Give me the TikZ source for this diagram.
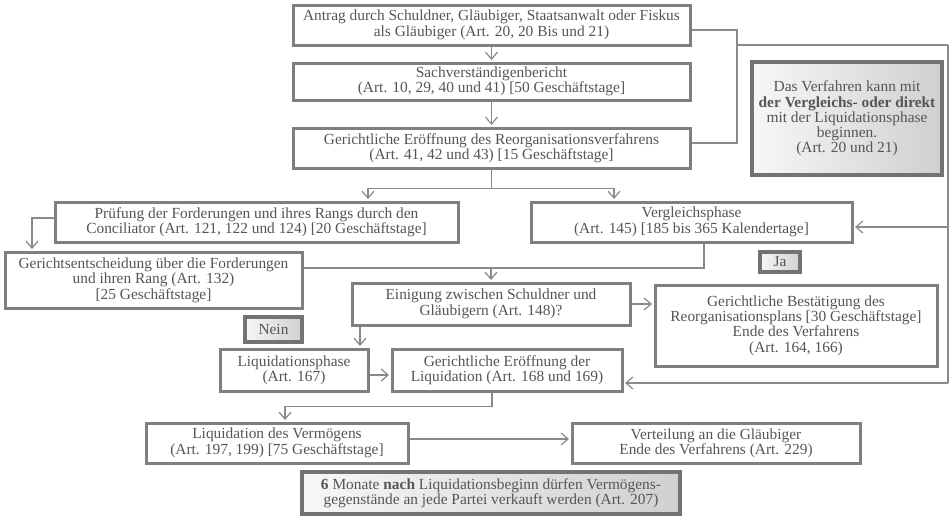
\documentclass[tikz,border=0pt]{standalone}
\usepackage{fontspec}
\setmainfont{Liberation Serif}
\usetikzlibrary{arrows.meta,shadings}
\definecolor{boxc}{HTML}{7F7F7F}
\definecolor{gboxc}{HTML}{737373}
\definecolor{txt}{HTML}{555555}
\definecolor{linec}{HTML}{8A8A8A}
\definecolor{glight}{HTML}{F7F7F7}
\definecolor{gdark}{HTML}{D0D0D0}
\tikzset{
  box/.style={draw=boxc, line width=3pt, fill=white, align=center, text=txt, inner sep=0pt,
    font=\fontsize{15.4}{15.4}\selectfont},
  gbox/.style={draw=gboxc, line width=3.2pt, align=center, text=txt, inner sep=0pt,
    left color=glight, right color=gdark,
    font=\fontsize{15.4}{15.2}\selectfont},
  conn/.style={draw=linec, line width=1.3pt},
  connarr/.style={conn, -{Straight Barb[length=7pt,width=12pt,line width=1.2pt]}, shorten >=1.5pt}
}
\begin{document}
\begin{tikzpicture}[x=1pt,y=-1pt]
\useasboundingbox (0,0) rectangle (951,517);
\fill[white] (0,0) rectangle (951,517);

\node[box, minimum width=397, minimum height=40] (a) at (491.5,25)
  {Antrag durch Schuldner, Gläubiger, Staatsanwalt oder Fiskus\\als Gläubiger (Art. 20, 20 Bis und 21)};
\node[box, minimum width=397, minimum height=37] (b) at (491.5,81.5)
  {Sachverständigenbericht\\(Art. 10, 29, 40 und 41) [50 Geschäftstage]};
\node[box, minimum width=397, minimum height=40] (c) at (491.5,148)
  {Gerichtliche Eröffnung des Reorganisationsverfahrens\\(Art. 41, 42 und 43) [15 Geschäftstage]};
\node[gbox, minimum width=190, minimum height=113] (note) at (847,118.5)
  {Das Verfahren kann mit\\\textbf{der Vergleichs- oder direkt}\\mit der Liquidationsphase\\beginnen.\\(Art. 20 und 21)};
\node[box, minimum width=403, minimum height=40] (d) at (256.5,222)
  {Prüfung der Forderungen und ihres Rangs durch den\\Conciliator (Art. 121, 122 und 124) [20 Geschäftstage]};
\node[box, minimum width=321, minimum height=40] (e) at (691.5,222)
  {Vergleichsphase\\(Art. 145) [185 bis 365 Kalendertage]};
\node[box, minimum width=297, minimum height=56] (f) at (153.5,280)
  {Gerichtsentscheidung über die Forderungen\\und ihren Rang (Art. 132)\\{}[25 Geschäftstage]};
\node[gbox, minimum width=40, minimum height=20] (ja) at (780,262) {Ja};
\node[box, minimum width=278, minimum height=42] (g) at (491,304)
  {Einigung zwischen Schuldner und\\Gläubigern (Art. 148)?};
\node[box, minimum width=282, minimum height=81] (h) at (796,325.5)
  {Gerichtliche Bestätigung des\\Reorganisationsplans [30 Geschäftstage]\\Ende des Verfahrens\\(Art. 164, 166)};
\node[gbox, minimum width=57, minimum height=25] (nein) at (273.5,329.5) {Nein};
\node[box, minimum width=148, minimum height=42] (i) at (294,370)
  {Liquidationsphase\\(Art. 167)};
\node[box, minimum width=230, minimum height=42] (j) at (507,370)
  {Gerichtliche Eröffnung der\\Liquidation (Art. 168 und 169)};
\node[box, minimum width=262, minimum height=40] (k) at (277,443)
  {Liquidation des Vermögens\\(Art. 197, 199) [75 Geschäftstage]};
\node[box, minimum width=288, minimum height=40] (l) at (716,443)
  {Verteilung an die Gläubiger\\Ende des Verfahrens (Art. 229)};
\node[gbox, minimum width=378, minimum height=42] (m) at (491,493)
  {\textbf{6} Monate \textbf{nach} Liquidationsbeginn dürfen Vermögens-\\gegenstände an jede Partei verkauft werden (Art. 207)};

% main vertical flow
\draw[connarr] (a.south) -- (b.north);
\draw[connarr] (b.south) -- (c.north);
\draw[connarr] (c.south) -- ++(0,19) -| ([xshift=111.5pt]d.north);
\draw[connarr] (c.south) -- ++(0,19) -| ([xshift=-77.5pt]e.north);
\draw[connarr] ([yshift=4pt]d.west) -| ([xshift=-121.5pt]f.north);

% from Vergleichsphase and Gerichtsentscheidung to Einigung
\coordinate (fe) at ([yshift=12pt]f.east);
\draw[conn] ([xshift=12.5pt]e.south) |- (fe);
\draw[connarr] (g.north |- fe) -- (g.north);

\coordinate (gout) at (g.east);
\draw[connarr] (gout) -- (gout -| h.west);
\draw[connarr] ([xshift=-131pt]g.south) -- ([xshift=66pt]i.north);
\coordinate (iout) at ([yshift=-5pt]i.east);
\draw[connarr] (iout) -- (iout -| j.west);

% loop on the right
\coordinate (aout) at ([yshift=-5pt]a.east);
\coordinate (cin) at ([yshift=5pt]c.east);
\coordinate (vx) at (737,45);
\coordinate (rr) at (948,45);
\draw[conn] (aout) -| (vx) |- (cin);
\draw[conn] (vx) -- (rr);
\coordinate (ein) at ([yshift=-5pt]e.east);
\coordinate (jin) at ([yshift=-13pt]j.east);
\draw[conn] (rr) -- (rr |- jin);
\draw[connarr] (ein -| rr) -- (ein);
\draw[connarr] (jin -| rr) -- (jin);

% liquidation
\draw[connarr] ([xshift=-15pt]j.south) -- ++(0,14) -| ([xshift=8pt]k.north);
\coordinate (kout) at ([yshift=4pt]k.east);
\draw[connarr] (kout) -- (kout -| l.west);
\end{tikzpicture}
\end{document}
